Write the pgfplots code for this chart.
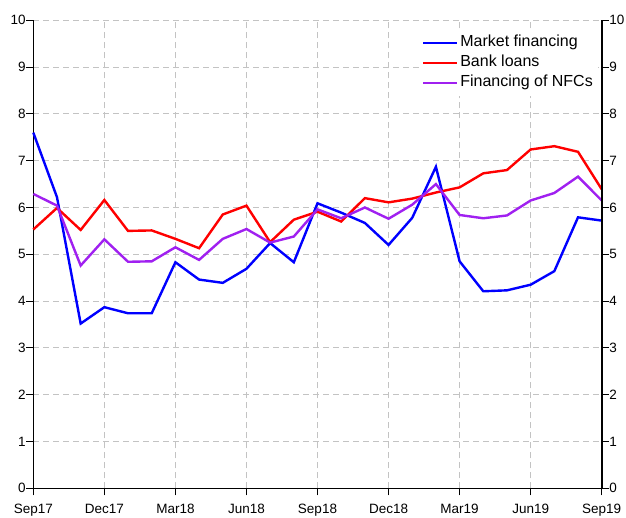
\documentclass[border=0pt]{standalone}
\usepackage{pgfplots}
\pgfplotsset{compat=1.18}
\usepackage{fontspec}
\setmainfont{Liberation Sans}
\usetikzlibrary{calc}
\definecolor{mblue}{RGB}{0,0,255}
\definecolor{mred}{RGB}{255,0,0}
\definecolor{mpurple}{RGB}{160,32,240}
\definecolor{gridgray}{RGB}{195,195,195}
\pgfplotstableread{
i market bank nfc
0 7.60 5.53 6.29
1 6.22 5.99 6.04
2 3.52 5.52 4.76
3 3.87 6.16 5.32
4 3.74 5.50 4.84
5 3.74 5.51 4.85
6 4.83 5.33 5.15
7 4.46 5.13 4.88
8 4.39 5.85 5.33
9 4.69 6.04 5.54
10 5.24 5.26 5.25
11 4.83 5.74 5.38
12 6.09 5.91 5.96
13 5.89 5.70 5.77
14 5.67 6.20 6.00
15 5.20 6.11 5.76
16 5.78 6.19 6.06
17 6.87 6.32 6.50
18 4.85 6.43 5.84
19 4.21 6.73 5.77
20 4.23 6.80 5.83
21 4.35 7.24 6.15
22 4.64 7.31 6.31
23 5.79 7.19 6.66
24 5.72 6.39 6.15
}\data
\begin{document}
\begin{tikzpicture}
\begin{axis}[
  name=ax,
  scale only axis,
  width=568.4pt, height=468pt,
  xmin=0, xmax=24, ymin=0, ymax=10,
  xtick={0,3,...,24},
  xticklabels={Sep17,Dec17,Mar18,Jun18,Sep18,Dec18,Mar19,Jun19,Sep19},
  ytick={0,...,10},
  axis x line*=bottom,
  axis y line*=left,
  axis line style={line width=1.6pt, black, -},
  tick style={line width=1pt, black},
  tick align=outside,
  major tick length=7pt,
  grid=major,
  major grid style={gridgray, line width=0.9pt, dash pattern=on 6pt off 4pt},
  tick label style={font=\fontsize{13.5}{15}\selectfont},
  yticklabel style={inner sep=0.5pt},
  /pgf/number format/assume math mode=true,
  xticklabel style={yshift=-5pt},
  legend style={at={(0.9935,0.980)}, anchor=north east, draw=none, fill=white,
    font=\fontsize{16}{19}\selectfont, row sep=0pt, inner sep=3pt,
    nodes={text height=12pt, text depth=4pt, inner sep=2pt},
    /tikz/every even column/.append style={column sep=11pt}},
  legend cell align=left,
  legend image code/.code={\draw[#1, line width=2.4pt] (0pt,0pt) -- (34pt,0pt);},
  clip=false,
]
\addplot[mblue, line width=2.4pt] table[x=i, y=market] {\data};
\addlegendentry{Market financing}
\addplot[mred, line width=2.4pt] table[x=i, y=bank] {\data};
\addlegendentry{Bank loans}
\addplot[mpurple, line width=2.4pt] table[x=i, y=nfc] {\data};
\addlegendentry{Financing of NFCs}
\end{axis}
\begin{axis}[
  scale only axis,
  width=568.4pt, height=468pt,
  xmin=0, xmax=24, ymin=0, ymax=10,
  ytick={0,...,10},
  axis y line*=right,
  axis x line=none,
  axis line style={line width=1.6pt, black, -},
  tick style={line width=1pt, black},
  tick align=outside,
  major tick length=7pt,
  tick label style={font=\fontsize{13.5}{15}\selectfont},
  yticklabel style={inner sep=0.5pt},
  /pgf/number format/assume math mode=true,
]
\addplot[draw=none] coordinates {(0,0)};
\end{axis}
\pgfresetboundingbox
\useasboundingbox ($(ax.south west)+(-33.3pt,-28.7pt)$) rectangle ($(ax.north east)+(24.3pt,20.3pt)$);
\end{tikzpicture}
\end{document}
